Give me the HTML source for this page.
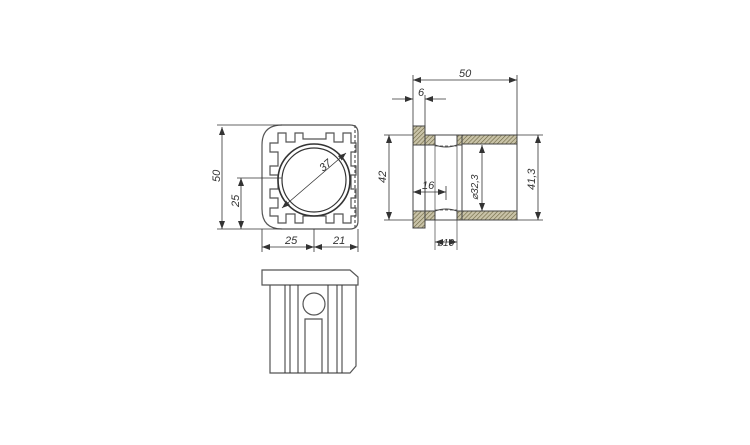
<!DOCTYPE html>
<html><head><style>html,body{margin:0;padding:0;background:#fff}svg{display:block}</style></head>
<body>
<svg width="750" height="445" viewBox="0 0 750 445" xmlns="http://www.w3.org/2000/svg" font-family="Liberation Sans, sans-serif" font-style="italic">
<defs>
<pattern id="h" width="3" height="3" patternUnits="userSpaceOnUse" patternTransform="rotate(45)">
<rect width="3" height="3" fill="#c9c3a8"/><line x1="0" y1="0" x2="0" y2="3" stroke="#6b6440" stroke-width="1.2"/>
</pattern>
<marker id="a" markerWidth="8" markerHeight="6" refX="8" refY="3" orient="auto-start-reverse" markerUnits="userSpaceOnUse"><path d="M0,0 L8,3 L0,6z" fill="#333"/></marker>
</defs>
<g fill="none" stroke="#555" stroke-width="1.2">
<path d="M282,125 H350 Q358,125 358,133 V221 Q358,229 350,229 H282 Q262,229 262,209 V145 Q262,125 282,125Z"/>
<path d="M278,133 V143 H270 V152 H278 V166 H270 V175 H278 V189 H270 V198 H278 V208 H270 V216 H278 V223 H286 V214 H295 V223 H303 V216 H326 V223 H334 V214 H343 V223 H351 V216 H356 V208 H351 V198 H356 V189 H351 V175 H356 V166 H351 V152 H356 V143 H351 V133 H343 V142 H334 V133 H326 V139 H303 V133 H295 V142 H286 V133Z"/>
<circle cx="314" cy="180" r="36" stroke="#333" stroke-width="1.6"/>
<circle cx="314" cy="180" r="32" stroke="#333"/>
<line x1="355" y1="125" x2="355" y2="229" stroke-dasharray="3,2"/>
</g>
<g stroke="#333" stroke-width="0.8" fill="none">
<line x1="282" y1="208" x2="346" y2="153" marker-start="url(#a)" marker-end="url(#a)"/>
<line x1="217" y1="125" x2="282" y2="125"/><line x1="217" y1="229" x2="282" y2="229"/>
<line x1="222" y1="127" x2="222" y2="229" marker-start="url(#a)" marker-end="url(#a)"/>
<line x1="237" y1="178" x2="282" y2="178"/>
<line x1="241" y1="178" x2="241" y2="229" marker-start="url(#a)" marker-end="url(#a)"/>
<line x1="262" y1="229" x2="262" y2="252"/><line x1="358" y1="229" x2="358" y2="252"/><line x1="314" y1="229" x2="314" y2="252"/>
<line x1="262" y1="247" x2="314" y2="247" marker-start="url(#a)" marker-end="url(#a)"/>
<line x1="314" y1="247" x2="358" y2="247" marker-start="url(#a)" marker-end="url(#a)"/>
</g>
<g font-size="11" fill="#333">
<text x="285" y="244">25</text><text x="333" y="244">21</text>
<text transform="translate(220,182) rotate(-90)">50</text>
<text transform="translate(239,207) rotate(-90)">25</text>
<text transform="translate(323,172) rotate(-40)">37</text>
</g>
<!-- side view -->
<g stroke="#444" stroke-width="1">
<rect x="413" y="126" width="12" height="102" fill="#fff"/>
<rect x="413" y="126" width="12" height="19" fill="url(#h)"/>
<rect x="413" y="211" width="12" height="17" fill="url(#h)"/>
<rect x="425" y="135" width="10" height="10" fill="url(#h)"/>
<rect x="425" y="211" width="10" height="9" fill="url(#h)"/>
<rect x="462" y="135" width="55" height="9" fill="url(#h)"/>
<rect x="462" y="211" width="55" height="9" fill="url(#h)"/>
<rect x="457" y="135" width="5" height="10" fill="url(#h)"/>
<rect x="457" y="211" width="5" height="9" fill="url(#h)"/>
<line x1="462" y1="145" x2="462" y2="211"/>
<line x1="435" y1="135" x2="457" y2="135"/><line x1="435" y1="220" x2="457" y2="220"/>
<path d="M435,145 Q446,149 457,145 M435,211 Q446,207 457,211" fill="none"/>
<path d="M435,146 H457 M435,210 H457" stroke-dasharray="3,2" stroke-width="0.7"/>
<line x1="435" y1="135" x2="435" y2="250" stroke-width="0.7"/><line x1="457" y1="135" x2="457" y2="250" stroke-width="0.7"/>
<line x1="517" y1="135" x2="517" y2="220"/>
</g>
<g stroke="#333" stroke-width="0.8" fill="none">
<line x1="413" y1="75" x2="413" y2="126"/><line x1="517" y1="75" x2="517" y2="135"/>
<line x1="413" y1="80" x2="517" y2="80" marker-start="url(#a)" marker-end="url(#a)"/>
<line x1="425" y1="95" x2="425" y2="126"/>
<line x1="392" y1="99" x2="413" y2="99" marker-end="url(#a)"/><line x1="446" y1="99" x2="425" y2="99" marker-end="url(#a)"/>
<line x1="384" y1="135" x2="413" y2="135"/><line x1="384" y1="220" x2="413" y2="220"/>
<line x1="389" y1="135" x2="389" y2="220" marker-start="url(#a)" marker-end="url(#a)"/>
<line x1="517" y1="135" x2="543" y2="135"/><line x1="517" y1="220" x2="543" y2="220"/>
<line x1="538" y1="135" x2="538" y2="220" marker-start="url(#a)" marker-end="url(#a)"/>
<line x1="482" y1="145" x2="482" y2="211" marker-start="url(#a)" marker-end="url(#a)"/>
<line x1="446" y1="186" x2="446" y2="200"/>
<line x1="413" y1="192" x2="446" y2="192" marker-start="url(#a)" marker-end="url(#a)"/>
<line x1="435" y1="242" x2="457" y2="242" marker-start="url(#a)" marker-end="url(#a)"/>
</g>
<g font-size="11" fill="#333">
<text x="459" y="77">50</text><text x="418" y="96">6</text>
<text transform="translate(386,183) rotate(-90)">42</text>
<text transform="translate(535,190) rotate(-90)">41,3</text>
<text transform="translate(478,200) rotate(-90)" font-size="10">⌀32,3</text>
<text x="422" y="189">16</text><text x="437" y="246" font-size="10">⌀10</text>
</g>
<!-- bottom view -->
<g fill="none" stroke="#555" stroke-width="1.2">
<path d="M262,270 H350 L358,277 V285 H262Z"/>
<path d="M270,285 V373 H350 L356,366 V285"/>
<g stroke="#333" stroke-width="1"><line x1="285" y1="285" x2="285" y2="373"/><line x1="290" y1="285" x2="290" y2="373"/><line x1="298" y1="285" x2="298" y2="373"/><line x1="328" y1="285" x2="328" y2="373"/><line x1="337" y1="285" x2="337" y2="373"/><line x1="342" y1="285" x2="342" y2="373"/></g>
<circle cx="314" cy="304" r="11"/>
<path d="M305,373 V319 H322 V373"/>
</g>
</svg>
</body></html>
